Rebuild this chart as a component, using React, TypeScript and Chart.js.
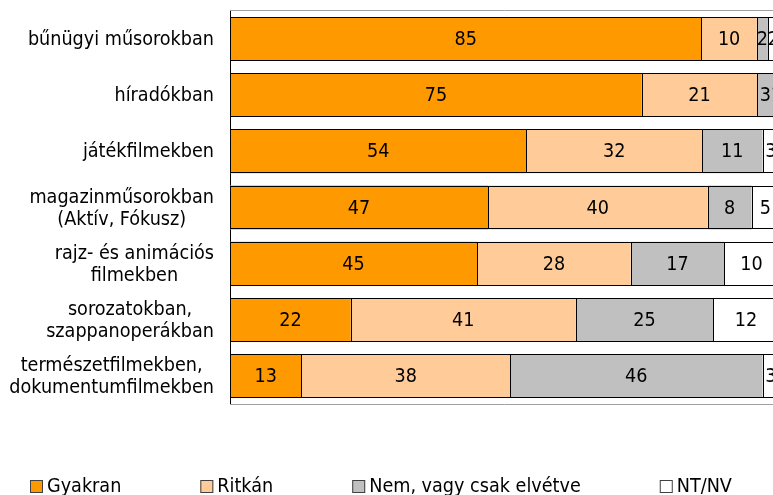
import React, { useEffect, useRef } from 'react';
import { Chart, registerables } from 'chart.js';

Chart.register(...registerables);

const categories: string[][] = [
  ['bűnügyi műsorokban'],
  ['híradókban'],
  ['játékfilmekben'],
  ['magazinműsorokban', '(Aktív, Fókusz)'],
  ['rajz- és animációs', 'filmekben'],
  ['sorozatokban,', 'szappanoperákban'],
  ['természetfilmekben,', 'dokumentumfilmekben'],
];
const seriesNames = ['Gyakran', 'Ritkán', 'Nem, vagy csak elvétve', 'NT/NV'];
const gyakran = [85, 75, 54, 47, 45, 22, 13];
const ritkan = [10, 21, 32, 40, 28, 41, 38];
const nem = [2, 3, 11, 8, 17, 25, 46];
const ntnv = [2, 1, 3, 5, 10, 12, 3];
const seriesColors = ['#FF9900', '#FFCC99', '#C0C0C0', '#FFFFFF'];

const FONT_FAMILY = '"DejaVu Sans Condensed", "Liberation Sans Narrow", "DejaVu Sans", sans-serif';
const FONT = `19.6px ${FONT_FAMILY}`;

const rawSeries = [gyakran, ritkan, nem, ntnv];
const rowTotals = categories.map((_, i) => rawSeries.reduce((s, arr) => s + arr[i], 0));

const customPlugin = {
  id: 'customDraw',
  afterDatasetsDraw(chart: any) {
    const ctx = chart.ctx as CanvasRenderingContext2D;
    const area = chart.chartArea;
    ctx.save();
    // plot area top / bottom lines
    ctx.strokeStyle = '#A0A0A0';
    ctx.lineWidth = 1;
    ctx.beginPath();
    ctx.moveTo(area.left, Math.round(area.top) - 0.5);
    ctx.lineTo(area.right, Math.round(area.top) - 0.5);
    ctx.moveTo(area.left, Math.round(area.bottom) + 0.5);
    ctx.lineTo(area.right, Math.round(area.bottom) + 0.5);
    ctx.stroke();

    // crisp segment outlines
    ctx.strokeStyle = '#000';
    ctx.lineWidth = 1;
    chart.data.datasets.forEach((ds: any, di: number) => {
      const meta = chart.getDatasetMeta(di);
      meta.data.forEach((bar: any) => {
        const p = bar.getProps(['x', 'base', 'y', 'height'], true);
        const x0 = Math.round(Math.min(p.x, p.base)) + 0.5;
        const x1 = Math.round(Math.max(p.x, p.base)) + 0.5;
        const y0 = Math.round(p.y - p.height / 2) + 0.5;
        const y1 = Math.round(p.y + p.height / 2) - 0.5;
        ctx.strokeRect(x0, y0, x1 - x0, y1 - y0);
      });
    });

    // data labels
    ctx.font = FONT;
    ctx.fillStyle = '#000';
    ctx.textAlign = 'center';
    ctx.textBaseline = 'middle';
    chart.data.datasets.forEach((ds: any, di: number) => {
      const meta = chart.getDatasetMeta(di);
      meta.data.forEach((bar: any, i: number) => {
        const p = bar.getProps(['x', 'base', 'y'], true);
        ctx.fillText(String(rawSeries[di][i]), (p.x + p.base) / 2, p.y + 1);
      });
    });

    // category labels: block right-aligned, lines centered within block
    const yScale = chart.scales.y;
    const lineH = 22;
    categories.forEach((lines, i) => {
      const cy = yScale.getPixelForValue(i);
      const widths = lines.map((l) => ctx.measureText(l).width);
      const blockW = Math.max(...widths);
      const blockRight = area.left - 16;
      const cx = blockRight - blockW / 2;
      lines.forEach((l, li) => {
        const ly = cy + (li - (lines.length - 1) / 2) * lineH + 1;
        ctx.fillText(l, cx, ly);
      });
    });

    // legend
    ctx.textAlign = 'left';
    let x = 30;
    const boxSize = 13;
    const legendY = 486;
    chart.data.datasets.forEach((ds: any) => {
      ctx.fillStyle = ds.backgroundColor;
      ctx.fillRect(x, legendY - 6, boxSize, boxSize);
      ctx.strokeStyle = '#404040';
      ctx.lineWidth = 1;
      ctx.strokeRect(x + 0.5, legendY - 6 + 0.5, boxSize - 1, boxSize - 1);
      ctx.fillStyle = '#000';
      const tx = x + boxSize + 4;
      ctx.fillText(ds.label, tx, legendY + 1);
      x = tx + ctx.measureText(ds.label).width + 79;
    });
    ctx.restore();
  },
};

export default function App() {
  const ref = useRef<HTMLCanvasElement | null>(null);
  useEffect(() => {
    if (!ref.current) return;
    const chart = new Chart(ref.current, {
      type: 'bar',
      data: {
        labels: categories.map((c) => c.join(' ')),
        datasets: seriesNames.map((name, di) => ({
          label: name,
          data: rawSeries[di].map((v, i) => (v / rowTotals[i]) * 100),
          backgroundColor: seriesColors[di],
          borderWidth: 0,
          borderSkipped: false,
          barPercentage: 0.78,
          categoryPercentage: 1,
        })),
      },
      options: {
        indexAxis: 'y',
        responsive: false,
        animation: false,
        devicePixelRatio: 1,
        layout: { padding: { left: 230, top: 11, right: 11, bottom: 91 } },
        plugins: {
          legend: { display: false },
          tooltip: { enabled: false },
        },
        scales: {
          x: {
            display: false,
            stacked: true,
            min: 0,
            max: 100,
          },
          y: {
            stacked: true,
            ticks: { display: false },
            grid: { display: false, drawTicks: false },
            border: { display: true, color: '#000000', width: 1 },
            afterFit: (s: any) => {
              s.width = 0;
            },
          },
        },
      },
      plugins: [customPlugin],
    } as any);
    return () => chart.destroy();
  }, []);
  return (
    <div
      style={{
        position: 'fixed',
        left: 0,
        top: 0,
        width: 773,
        height: 495,
        overflow: 'hidden',
        background: '#fff',
      }}
    >
      <canvas ref={ref} width={790} height={495} style={{ display: 'block', width: 790, height: 495 }} />
    </div>
  );
}
